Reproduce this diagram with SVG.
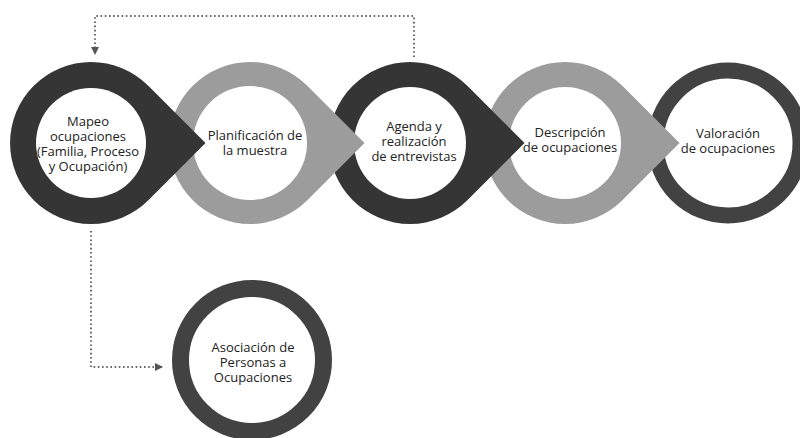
<svg xmlns="http://www.w3.org/2000/svg" width="800" height="438" viewBox="0 0 800 438">
<defs>
<style>
.dark{fill:#353535}
.gray{fill:#9c9c9c}
.hole{fill:#ffffff}
.ring{fill:#ffffff;stroke:#424242}
.lbl{font-family:"Open Sans","Liberation Sans",sans-serif;font-size:13px;fill:#222;text-anchor:middle}
.dot{fill:none;stroke:#6a6a6a;stroke-width:2;stroke-dasharray:1.6 2.6}
</style>
<marker id="ah" viewBox="0 0 8 8" refX="7" refY="4" markerWidth="8" markerHeight="8" markerUnits="userSpaceOnUse" orient="auto">
<path d="M0,0 L8,4 L0,8 Z" fill="#555"/>
</marker>
</defs>
<rect width="800" height="438" fill="#ffffff"/>
<g id="connectors">
<path class="dot" d="M414,57 V16 H95 V54" marker-end="url(#ah)"/>
<path class="dot" d="M91,231 V367 H162" marker-end="url(#ah)"/>
</g>
<g id="node5">
<circle class="ring" cx="728" cy="143" r="72.5" stroke-width="16"/>
<text class="lbl" x="728" y="138">Valoración</text>
<text class="lbl" x="728" y="153">de ocupaciones</text>
</g>
<g id="node4">
<path class="gray" d="M679.5,143 L622.3,200.3 A81,81 0 1 1 622.3,85.7 Z"/>
<circle class="hole" cx="565" cy="143" r="56"/>
<text class="lbl" x="570" y="137">Descripción</text>
<text class="lbl" x="570" y="152">de ocupaciones</text>
</g>
<g id="node3">
<path class="dark" d="M524.5,143 L467.3,200.3 A81,81 0 1 1 467.3,85.7 Z"/>
<circle class="hole" cx="410" cy="143" r="56"/>
<text class="lbl" x="414" y="131">Agenda y</text>
<text class="lbl" x="414" y="146">realización</text>
<text class="lbl" x="414" y="161">de entrevistas</text>
</g>
<g id="node2">
<path class="gray" d="M364.5,143 L307.3,200.3 A81,81 0 1 1 307.3,85.7 Z"/>
<circle class="hole" cx="250" cy="143" r="57"/>
<text class="lbl" x="255" y="140">Planificación de</text>
<text class="lbl" x="255" y="155">la muestra</text>
</g>
<g id="node1">
<path class="dark" d="M205.5,143 L148.3,200.3 A81,81 0 1 1 148.3,85.7 Z"/>
<circle class="hole" cx="91" cy="143" r="55"/>
<text class="lbl" x="88" y="126">Mapeo</text>
<text class="lbl" x="88" y="141">ocupaciones</text>
<text class="lbl" x="88" y="156">(Familia, Proceso</text>
<text class="lbl" x="88" y="171">y Ocupación)</text>
</g>
<g id="node6">
<circle class="ring" cx="252" cy="360" r="71.5" stroke-width="17"/>
<text class="lbl" x="253" y="352">Asociación de</text>
<text class="lbl" x="253" y="367">Personas a</text>
<text class="lbl" x="253" y="382">Ocupaciones</text>
</g>
</svg>
